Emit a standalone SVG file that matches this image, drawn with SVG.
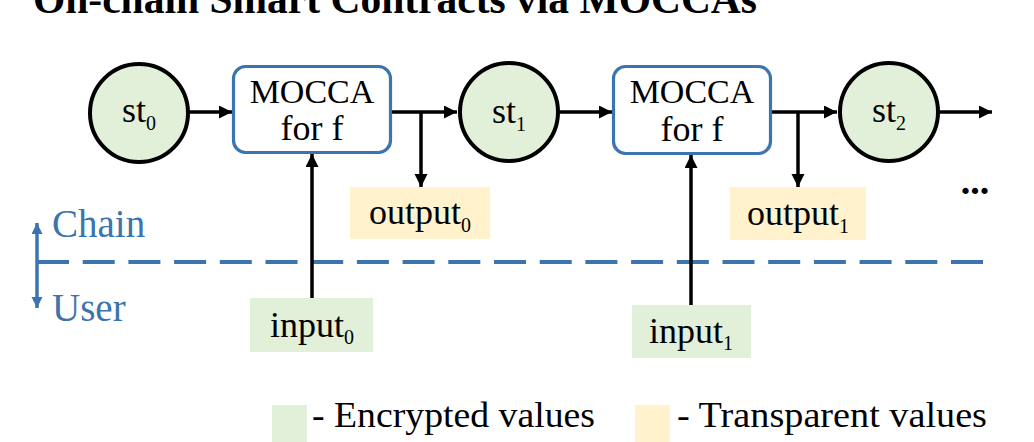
<svg xmlns="http://www.w3.org/2000/svg" width="1034" height="442" viewBox="0 0 1034 442">
<defs>
<marker id="ah" markerUnits="userSpaceOnUse" markerWidth="14" markerHeight="14" refX="13" refY="6.5" orient="auto">
<path d="M0,0 L13,6.5 L0,13 z" fill="#000"/>
</marker>
<marker id="bh" markerUnits="userSpaceOnUse" markerWidth="12" markerHeight="12" refX="11" refY="5.5" orient="auto">
<path d="M0,0 L11,5.5 L0,11 z" fill="#3b74ae"/>
</marker>
<style>
text{font-family:"Liberation Serif","Times New Roman",serif;fill:#000}
.t{font-size:36px}
.m{font-size:34px}
.lab{font-size:39px}
.sub{font-size:20px}
.state{fill:#e2efd9;stroke:#000;stroke-width:4}
.mocca{fill:#fff;stroke:#3b74ae;stroke-width:3.2}
.enc{fill:#e2efd9}
.tra{fill:#fff2cc}
.c{stroke:#000;stroke-width:3.5;fill:none}
.blue{fill:#3b74ae}
</style>
</defs>
<rect width="1034" height="442" fill="#fff"/>
<text x="33" y="13" font-size="42" font-weight="bold" textLength="724" lengthAdjust="spacingAndGlyphs">On-chain Smart Contracts via MOCCAs</text>

<g id="divider">
<line x1="37" y1="262" x2="987" y2="262" stroke="#3b74ae" stroke-width="4" stroke-dasharray="32 13.7"/>
<line x1="37" y1="262" x2="37" y2="223" stroke="#3b74ae" stroke-width="3.5" marker-end="url(#bh)"/>
<line x1="37" y1="262" x2="37" y2="308" stroke="#3b74ae" stroke-width="3.5" marker-end="url(#bh)"/>
<text class="lab blue" x="52" y="237">Chain</text>
<text class="lab blue" x="52" y="321">User</text>
</g>

<g id="connectors">
<line class="c" x1="189" y1="112" x2="232" y2="112" marker-end="url(#ah)"/>
<line class="c" x1="391" y1="112" x2="457" y2="112" marker-end="url(#ah)"/>
<line class="c" x1="421" y1="112" x2="421" y2="187" marker-end="url(#ah)"/>
<line class="c" x1="559" y1="112" x2="612" y2="112" marker-end="url(#ah)"/>
<line class="c" x1="771" y1="112" x2="837" y2="112" marker-end="url(#ah)"/>
<line class="c" x1="798" y1="112" x2="798" y2="187" marker-end="url(#ah)"/>
<line class="c" x1="939" y1="112" x2="992" y2="112" marker-end="url(#ah)"/>
<line class="c" x1="312" y1="298" x2="312" y2="154" marker-end="url(#ah)"/>
<line class="c" x1="691" y1="305" x2="691" y2="155" marker-end="url(#ah)"/>
</g>

<g id="st0">
<circle class="state" cx="139" cy="113" r="49"/>
<text class="t" x="139" y="122" text-anchor="middle">st<tspan class="sub" dy="8">0</tspan></text>
</g>
<g id="mocca1">
<rect class="mocca" x="233.5" y="66.5" width="157" height="86" rx="12"/>
<text class="m" x="312" y="103" text-anchor="middle">MOCCA</text>
<text class="t" x="312" y="140" text-anchor="middle">for f</text>
</g>
<g id="st1">
<circle class="state" cx="509" cy="112" r="49"/>
<text class="t" x="509" y="123" text-anchor="middle">st<tspan class="sub" dy="8">1</tspan></text>
</g>
<g id="mocca2">
<rect class="mocca" x="613.5" y="66.5" width="157" height="87" rx="12"/>
<text class="m" x="692" y="103" text-anchor="middle">MOCCA</text>
<text class="t" x="692" y="141" text-anchor="middle">for f</text>
</g>
<g id="st2">
<circle class="state" cx="889" cy="112" r="49"/>
<text class="t" x="889" y="122" text-anchor="middle">st<tspan class="sub" dy="8">2</tspan></text>
</g>
<g id="output0">
<rect class="tra" x="350" y="187" width="140" height="52"/>
<text class="t" x="420" y="224" text-anchor="middle">output<tspan class="sub" dy="8">0</tspan></text>
</g>
<g id="output1">
<rect class="tra" x="730" y="187" width="136" height="53"/>
<text class="t" x="798" y="225" text-anchor="middle">output<tspan class="sub" dy="8">1</tspan></text>
</g>
<g id="input0">
<rect class="enc" x="250" y="298" width="123" height="54"/>
<text class="t" x="312" y="337" text-anchor="middle">input<tspan class="sub" dy="7">0</tspan></text>
</g>
<g id="input1">
<rect class="enc" x="632" y="305" width="119" height="53"/>
<text class="t" x="691" y="343" text-anchor="middle">input<tspan class="sub" dy="7">1</tspan></text>
</g>
<g id="ellipsis">
<text x="975" y="194" text-anchor="middle" font-size="38" font-weight="bold">...</text>
</g>
<g id="legend">
<rect class="enc" x="272" y="405" width="35" height="40"/>
<text class="t" x="312" y="427" textLength="283" lengthAdjust="spacingAndGlyphs">- Encrypted values</text>
<rect class="tra" x="635" y="405" width="35" height="40"/>
<text class="t" x="677" y="427" textLength="310" lengthAdjust="spacingAndGlyphs">- Transparent values</text>
</g>
</svg>
